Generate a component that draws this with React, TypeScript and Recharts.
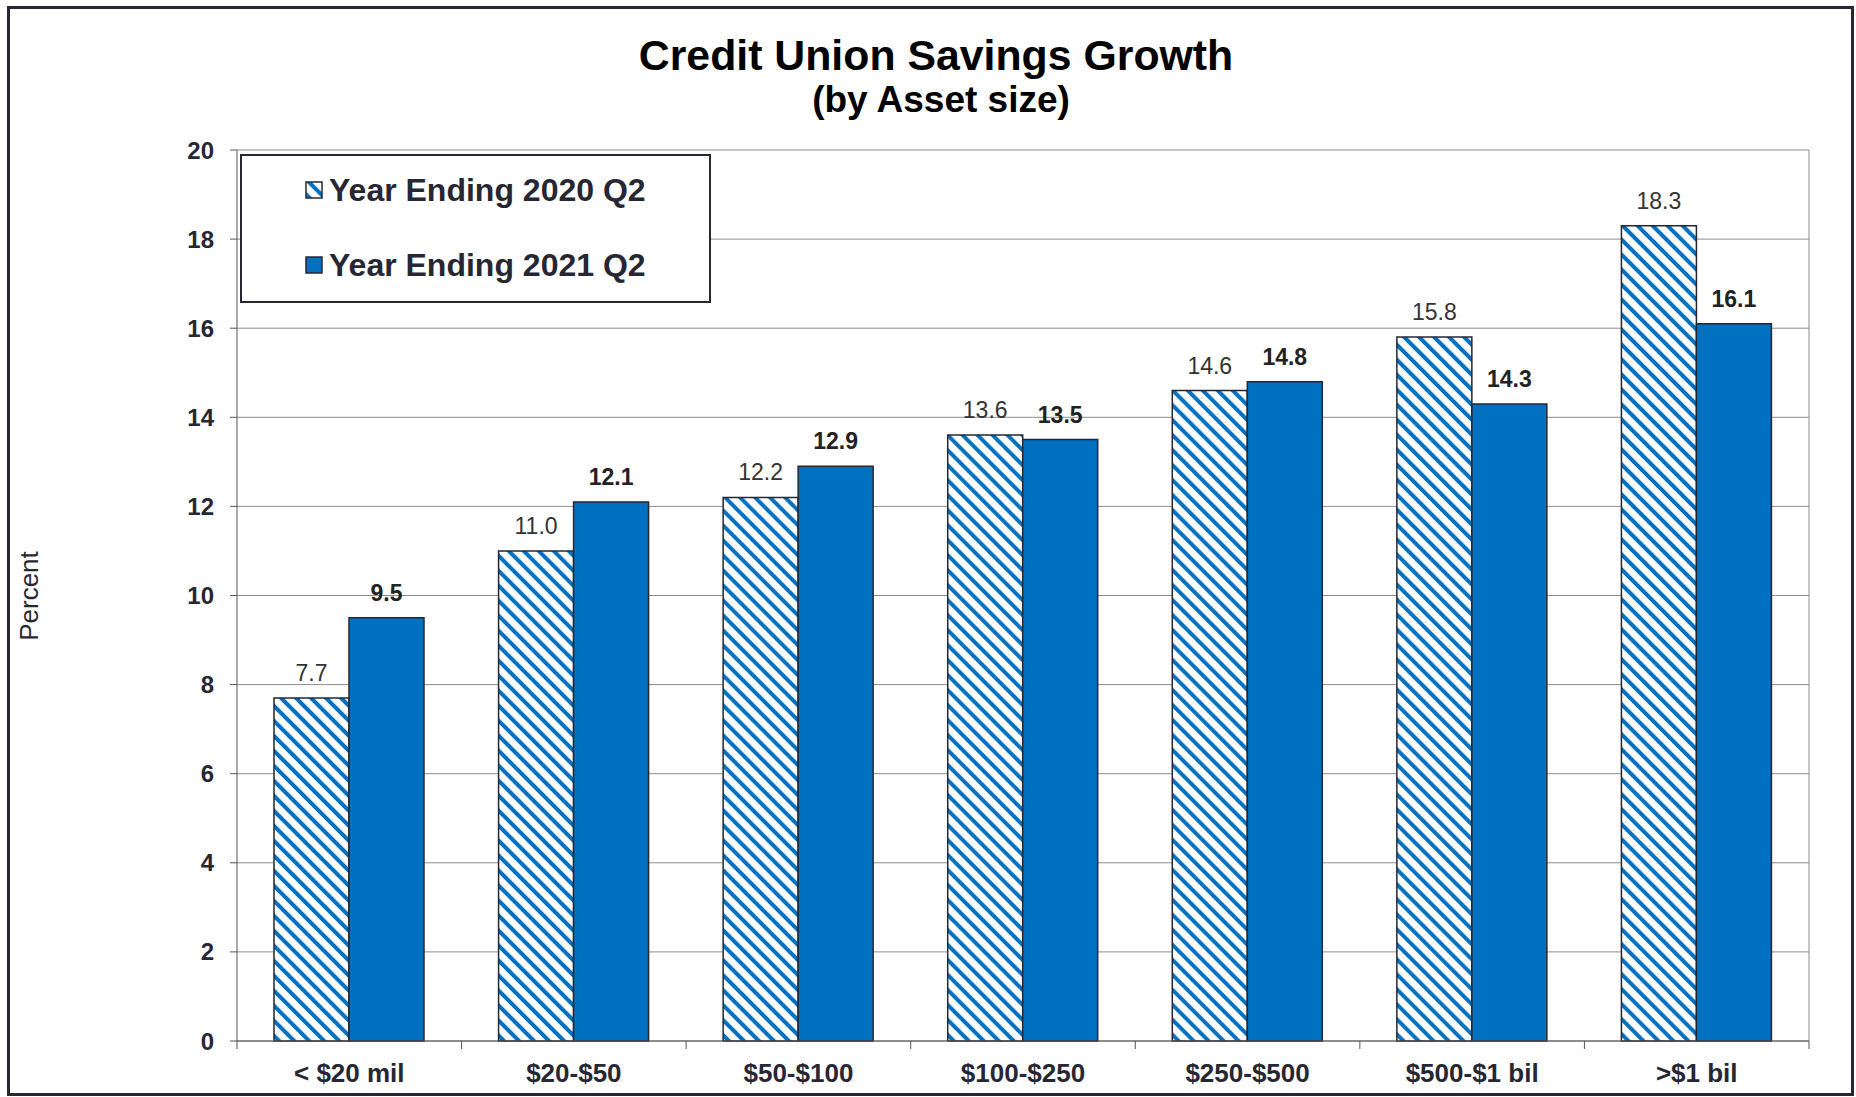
import React from 'react';
import { BarChart, Bar, XAxis, YAxis, CartesianGrid, LabelList } from 'recharts';

const categories = ['< $20 mil', '$20-$50', '$50-$100', '$100-$250', '$250-$500', '$500-$1 bil', '>$1 bil'];
const growth2020 = [7.7, 11.0, 12.2, 13.6, 14.6, 15.8, 18.3];
const growth2021 = [9.5, 12.1, 12.9, 13.5, 14.8, 14.3, 16.1];
const yTicks = [0, 2, 4, 6, 8, 10, 12, 14, 16, 18, 20];

const seriesNames = ['Year Ending 2020 Q2', 'Year Ending 2021 Q2'];

const BLUE = '#0070c0';
const INK = '#272733';
const FONT = '"Liberation Sans", Arial, sans-serif';

const chartData = categories.map((name, i) => ({
  name,
  y2020: growth2020[i],
  y2021: growth2021[i],
}));

const fmt = (v: any) => Number(v).toFixed(1);

const HatchDefs = () => (
  <defs>
    <pattern id="hatch" patternUnits="userSpaceOnUse" width="10.6" height="10.6" patternTransform="rotate(-45)">
      <rect x="0" y="0" width="10.6" height="10.6" fill="#ffffff" />
      <rect x="0" y="0" width="4" height="10.6" fill={BLUE} />
    </pattern>
  </defs>
);

// category label plus Excel-style tick marks at the category boundaries
const CategoryTick = (props: any) => {
  const { x, y, payload, index, visibleTicksCount } = props;
  const half = payload && payload.offset ? payload.offset : 112.3;
  const last = index === (visibleTicksCount ?? categories.length) - 1;
  return (
    <g>
      <line x1={x - half} y1={y} x2={x - half} y2={y + 8} stroke="#555" />
      {last && <line x1={x + half} y1={y} x2={x + half} y2={y + 8} stroke="#555" />}
      <text
        x={x}
        y={y + 23}
        dy="0.71em"
        textAnchor="middle"
        fontSize={26}
        fontWeight="bold"
        fill={INK}
        fontFamily={FONT}
      >
        {payload.value}
      </text>
    </g>
  );
};

const LegendBox = () => (
  <div
    style={{
      position: 'absolute',
      left: 240,
      top: 154,
      width: 471,
      height: 149,
      boxSizing: 'border-box',
      border: `2.5px solid ${INK}`,
      background: '#fff',
      fontFamily: FONT,
      fontWeight: 'bold',
      fontSize: 32,
      color: INK,
    }}
  >
    {seriesNames.map((s, i) => (
      <div
        key={s}
        style={{ position: 'absolute', left: 63, top: i === 0 ? 16 : 91, height: 36, display: 'flex', alignItems: 'center' }}
      >
        <svg width={18} height={18} style={{ marginRight: 6 }}>
          <rect x={1} y={1} width={16} height={16} fill={i === 0 ? 'url(#hatch)' : BLUE} stroke={INK} strokeWidth={1.5} />
        </svg>
        <span>{s}</span>
      </div>
    ))}
  </div>
);

export default function App() {
  return (
    <div style={{ position: 'absolute', left: 0, top: 0, width: 1856, height: 1097, background: '#fff', fontFamily: FONT }}>
      <BarChart
        width={1856}
        height={1097}
        data={chartData}
        margin={{ top: 150, right: 46, bottom: 0, left: 177 }}
        barCategoryGap={37}
        barGap={0}
      >
        <HatchDefs />
        <CartesianGrid vertical={false} stroke="#8c8c8c" strokeWidth={1} />
        <XAxis
          dataKey="name"
          interval={0}
          height={56}
          axisLine={{ stroke: '#555' }}
          tickLine={false}
          tickSize={0}
          tickMargin={0}
          tick={<CategoryTick />}
        />
        <YAxis
          domain={[0, 20]}
          ticks={yTicks}
          width={60}
          tickSize={7}
          tickMargin={16}
          axisLine={{ stroke: '#555' }}
          tickLine={{ stroke: '#555' }}
          tick={{ fontSize: 24, fontWeight: 'bold', fill: INK, fontFamily: FONT }}
        />
        <YAxis
          yAxisId="right"
          orientation="right"
          domain={[0, 20]}
          width={1}
          tick={false}
          tickLine={false}
          axisLine={{ stroke: '#8c8c8c' }}
        />
        <Bar dataKey="y2020" name={seriesNames[0]} fill="url(#hatch)" stroke={INK} strokeWidth={1.5} isAnimationActive={false}>
          <LabelList
            dataKey="y2020"
            position="top"
            offset={17}
            formatter={fmt}
            style={{ fontSize: 23, fill: '#333', fontFamily: FONT }}
          />
        </Bar>
        <Bar dataKey="y2021" name={seriesNames[1]} fill={BLUE} stroke={INK} strokeWidth={1.5} isAnimationActive={false}>
          <LabelList
            dataKey="y2021"
            position="top"
            offset={17}
            formatter={fmt}
            style={{ fontSize: 23, fontWeight: 'bold', fill: '#222', fontFamily: FONT }}
          />
        </Bar>
      </BarChart>

      <div
        style={{
          position: 'absolute',
          left: 16,
          top: 33,
          width: 1840,
          textAlign: 'center',
          fontWeight: 'bold',
          fontSize: 42.8,
          lineHeight: '44px',
          color: '#000',
        }}
      >
        Credit Union Savings Growth
      </div>
      <div
        style={{
          position: 'absolute',
          left: 26,
          top: 80,
          width: 1830,
          textAlign: 'center',
          fontWeight: 'bold',
          fontSize: 37,
          lineHeight: '40px',
          color: '#000',
        }}
      >
        (by Asset size)
      </div>
      <div
        style={{
          position: 'absolute',
          left: 29,
          top: 596,
          transform: 'translate(-50%, -50%) rotate(-90deg)',
          fontSize: 26,
          color: INK,
          whiteSpace: 'nowrap',
        }}
      >
        Percent
      </div>

      <LegendBox />

      <div
        style={{
          position: 'absolute',
          left: 7,
          top: 6,
          width: 1847,
          height: 1090,
          boxSizing: 'border-box',
          border: `3px solid ${INK}`,
          pointerEvents: 'none',
        }}
      />
    </div>
  );
}
